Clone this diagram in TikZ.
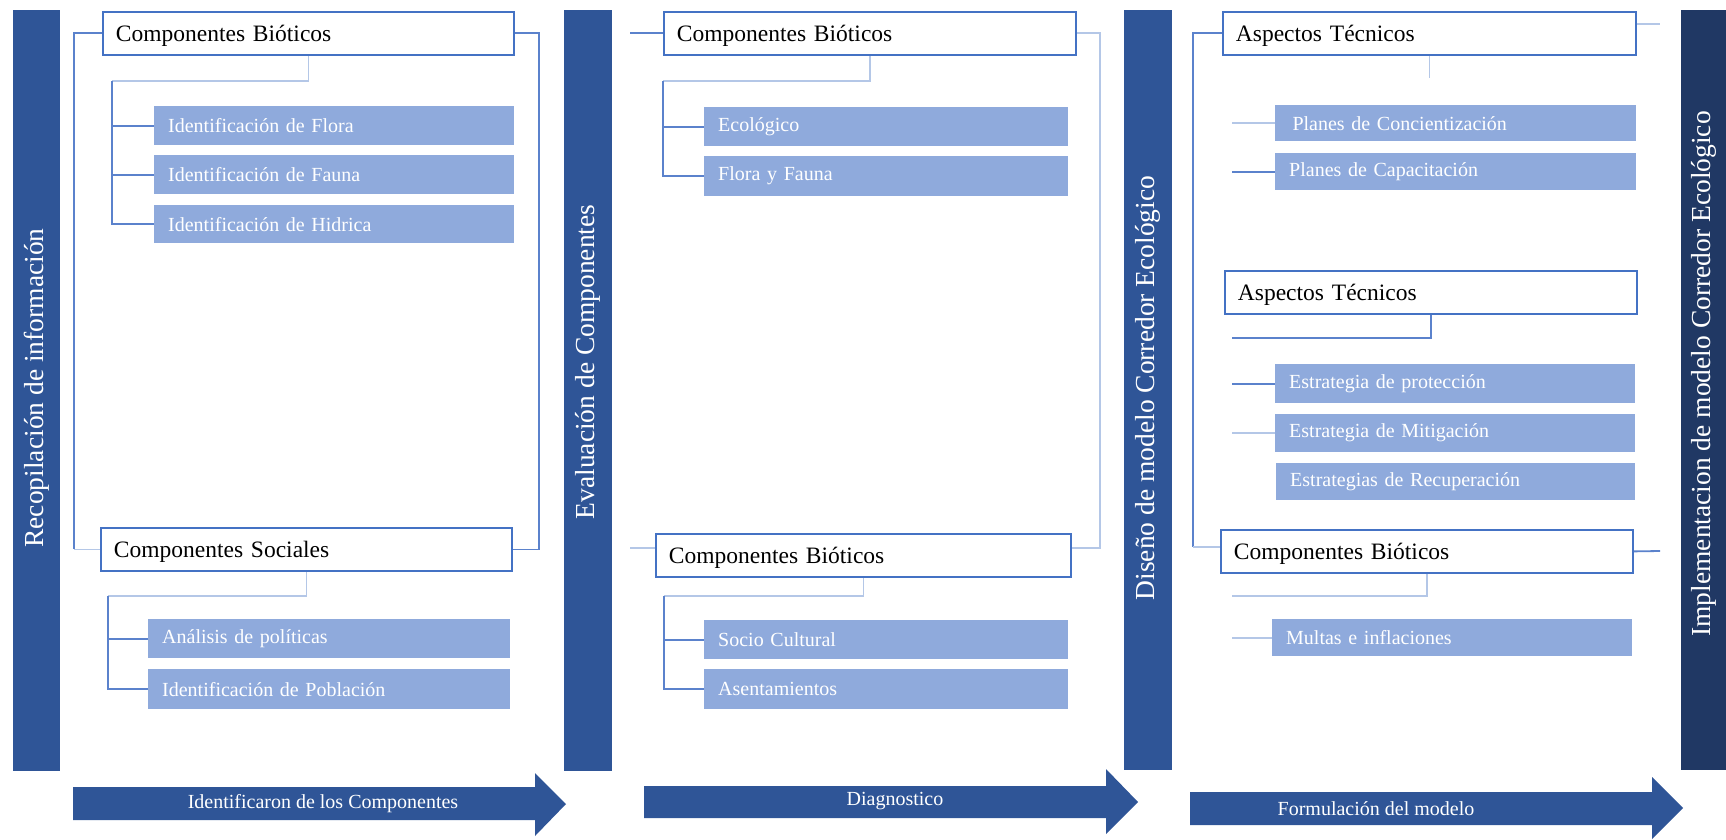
\documentclass[tikz,border=0pt]{standalone}
\usepackage{fontspec}
\setmainfont{Liberation Serif}
\definecolor{barblue}{HTML}{2F5597}
\definecolor{bardark}{HTML}{203864}
\definecolor{fillblue}{HTML}{8FAADC}
\definecolor{edgeblue}{HTML}{4472C4}
\definecolor{lnk}{HTML}{5B82CC}
\definecolor{lnkl}{HTML}{B4C7E7}
\begin{document}
\begin{tikzpicture}[x=1pt,y=-1pt,
  bar/.style={fill=barblue, draw=none, anchor=north west, inner sep=0pt},
  headbox/.style={draw=edgeblue, line width=1.8pt, fill=white, anchor=north west, inner xsep=13pt, inner ysep=0pt, minimum height=43pt, text height=22pt, text depth=5pt, align=left, font=\fontsize{23.5}{27}\selectfont, text=black},
  itembox/.style={fill=fillblue, anchor=north west, inner xsep=14pt, inner ysep=0pt, align=left, font=\fontsize{20}{24}\selectfont, text=white},
  bartext/.style={rotate=90, text=white, font=\fontsize{27.5}{32}\selectfont, inner sep=0pt},
  arrtext/.style={text=white, font=\fontsize{20}{24}\selectfont, inner sep=0pt},
  link/.style={draw=lnk, line width=1.8pt},
  linkl/.style={draw=lnkl, line width=1.8pt},
  arrowfill/.style={fill=barblue},
]
\useasboundingbox (0,0) rectangle (1726,840);

% vertical bars
\node[bar, minimum width=47pt, minimum height=761pt] (b1) at (13,10) {};
\node[bar, minimum width=48pt, minimum height=761pt] (b2) at (564,10) {};
\node[bar, minimum width=48pt, minimum height=760pt] (b3) at (1124,10) {};
\node[bar, fill=bardark, minimum width=45pt, minimum height=760pt] (b4) at (1681,10) {};
\node[bartext] (t1) at (36.5,388) {Recopilación de información};
\node[bartext] (t2) at (588,362) {Evaluación de Componentes};
\node[bartext] (t3) at (1148,388) {Diseño de modelo Corredor Ecológico};
\node[bartext] (t4) at (1703.5,374) {Implementacion de modelo Corredor Ecológico};

% bottom arrows
\fill[arrowfill] (73,787) -- (535,787) -- (535,773) -- (566,804) -- (535,836) -- (535,820) -- (73,820) -- cycle;
\fill[arrowfill] (644,786) -- (1106,786) -- (1106,769) -- (1138,802) -- (1106,834) -- (1106,818) -- (644,818) -- cycle;
\fill[arrowfill] (1190,792) -- (1652,792) -- (1652,777) -- (1683,808) -- (1652,839) -- (1652,825) -- (1190,825) -- cycle;
\node[arrtext] (a1) at (323,804) {Identificaron de los Componentes};
\node[arrtext] (a2) at (895,801) {Diagnostico};
\node[arrtext] (a3) at (1376,809) {Formulación del modelo};

% column 1
\node[headbox, text width=385pt] (cb1) at (102,11) {Componentes Bióticos};
\node[itembox, text width=332pt, minimum height=39pt] (f1) at (154,106) {Identificación de Flora};
\node[itembox, text width=332pt, minimum height=39pt] (f2) at (154,155) {Identificación de Fauna};
\node[itembox, text width=332pt, minimum height=38pt] (f3) at (154,205) {Identificación de Hidrica};
\node[headbox, text width=385pt] (cs) at (100,527) {Componentes Sociales};
\node[itembox, text width=334pt, minimum height=39pt] (f4) at (148,619) {Análisis de políticas};
\node[itembox, text width=334pt, minimum height=40pt] (f5) at (148,669) {Identificación de Población};

% column 2
\node[headbox, text width=386pt] (cb2) at (663,11) {Componentes Bióticos};
\node[itembox, text width=336pt, minimum height=39pt] (e1) at (704,107) {Ecológico};
\node[itembox, text width=336pt, minimum height=40pt] (e2) at (704,156) {Flora y Fauna};
\node[headbox, text width=389pt] (cb3) at (655,533) {Componentes Bióticos};
\node[itembox, text width=336pt, minimum height=39pt] (e3) at (704,620) {Socio Cultural};
\node[itembox, text width=336pt, minimum height=40pt] (e4) at (704,669) {Asentamientos};

% column 3
\node[headbox, text width=387pt] (at1) at (1222,11) {Aspectos Técnicos};
\node[itembox, text width=333pt, minimum height=36pt] (p1) at (1275,105) {\,Planes de Concientización};
\node[itembox, text width=333pt, minimum height=37pt] (p2) at (1275,153) {Planes de Capacitación};
\node[headbox, text width=386pt] (at2) at (1224,270) {Aspectos Técnicos};
\node[itembox, text width=332pt, minimum height=39pt] (s1) at (1275,364) {Estrategia de protección};
\node[itembox, text width=332pt, minimum height=38pt] (s2) at (1275,414) {Estrategia de Mitigación};
\node[itembox, text width=331pt, minimum height=37pt] (s3) at (1276,463) {Estrategias de Recuperación};
\node[headbox, text width=386pt] (cb4) at (1220,529) {Componentes Bióticos};
\node[itembox, text width=332pt, minimum height=37pt] (m1) at (1272,619) {Multas e inflaciones};

% connectors column 1
\coordinate (L1) at (74,0);
\coordinate (R1) at (539,0);
\draw[link] (cb1.west) -- (cb1.west -| L1) -- (cs.west -| L1);
\draw[linkl] (cs.west -| L1) -- (cs.west);
\draw[link] (cb1.east) -- (cb1.east -| R1) -- (cs.east -| R1) -- (cs.east);
\coordinate (j1) at (112,81);
\draw[linkl] (cb1.south) |- (j1);
\draw[link] (j1) -- (j1 |- f3.west) -- (f3.west);
\draw[link] (j1 |- f1.west) -- (f1.west);
\draw[link] (j1 |- f2.west) -- (f2.west);
\coordinate (j2) at (108,596);
\draw[linkl] (cs.south) |- (j2);
\draw[link] (j2) -- (j2 |- f5.west) -- (f5.west);
\draw[link] (j2 |- f4.west) -- (f4.west);

% connectors column 2
\coordinate (L2a) at (630,0);
\coordinate (L2b) at (630,548);
\coordinate (R2) at (1100,548);
\draw[link] (cb2.west -| L2a) -- (cb2.west);
\draw[linkl] (L2b) -- (L2b -| cb3.west);
\draw[linkl] (cb2.east) -| (R2) -- (R2 -| cb3.east);
\coordinate (j3) at (663,81);
\draw[linkl] (cb2.south) |- (j3);
\draw[link] (j3) -- (j3 |- e2.west) -- (e2.west);
\draw[link] (j3 |- e1.west) -- (e1.west);
\coordinate (j4) at (664,596);
\draw[linkl] (cb3.south) |- (j4);
\draw[link] (j4) -- (j4 |- e4.west) -- (e4.west);
\draw[link] (j4 |- e3.west) -- (e3.west);

% connectors column 3
\coordinate (L3b) at (1193,547);
\draw[link] (at1.west) -| (L3b);
\draw[linkl] (L3b) -- (L3b -| cb4.west);
\coordinate (R3a) at (1660,24);
\coordinate (R3b) at (1660,551);
\draw[linkl] (R3a -| at1.east) -- (R3a);
\draw[link] (cb4.east) -- (R3b);
\coordinate (j5) at (0,78);
\draw[linkl] (at1.south) -- (at1.south |- j5);
\coordinate (k3) at (1232,0);
\draw[linkl] (k3 |- p1.west) -- (p1.west);
\draw[link] (k3 |- p2.west) -- (p2.west);
\coordinate (j6) at (1232,338);
\draw[link] (at2.south) |- (j6);
\draw[link] (k3 |- s1.west) -- (s1.west);
\draw[linkl] (k3 |- s2.west) -- (s2.west);
\coordinate (j7) at (1232,596);
\draw[linkl] (cb4.south) |- (j7);
\draw[linkl] (k3 |- m1.west) -- (m1.west);
\end{tikzpicture}
\end{document}
